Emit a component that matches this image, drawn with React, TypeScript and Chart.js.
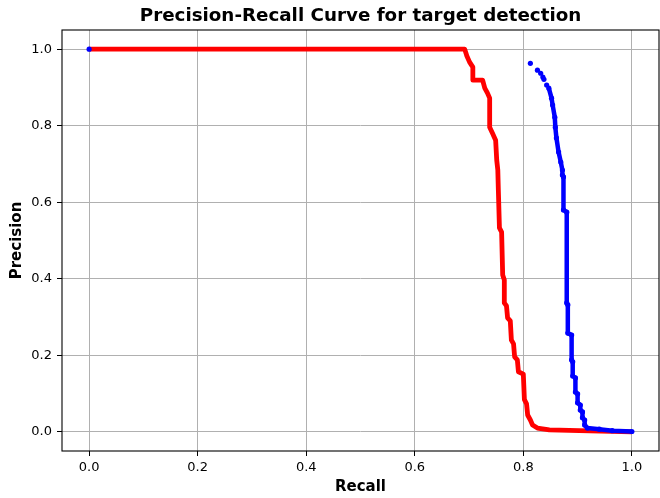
import React, { useEffect, useRef } from 'react';
import { Chart, registerables } from 'chart.js';

Chart.register(...registerables);

const chartTitle = 'Precision-Recall Curve for target detection';
const xLabel = 'Recall';
const yLabel = 'Precision';
const tickValues = [0, 0.2, 0.4, 0.6, 0.8, 1.0];

const redRecall = [
  0.0, 0.692, 0.696, 0.701, 0.707, 0.707, 0.725, 0.729, 0.734, 0.738, 0.738, 0.743, 0.749,
  0.751, 0.753, 0.754, 0.756, 0.760, 0.762, 0.765, 0.765, 0.769, 0.771, 0.776, 0.778, 0.782,
  0.784, 0.789, 0.791, 0.800, 0.802, 0.806, 0.808, 0.813, 0.817, 0.826, 0.848, 0.903, 1.0,
];
const redPrecision = [
  1.0, 1.0, 0.982, 0.966, 0.953, 0.919, 0.919, 0.898, 0.885, 0.872, 0.796, 0.781, 0.762,
  0.710, 0.684, 0.632, 0.533, 0.522, 0.410, 0.397, 0.337, 0.329, 0.298, 0.290, 0.240, 0.230,
  0.196, 0.188, 0.157, 0.151, 0.084, 0.073, 0.044, 0.031, 0.018, 0.010, 0.005, 0.003, 0.0,
];

const blueRecall = [
  0.0, 0.813, 0.826, 0.832, 0.836, 0.838, 0.843, 0.847, 0.852, 0.854, 0.858, 0.859, 0.861,
  0.865, 0.869, 0.872, 0.872, 0.874, 0.874, 0.880, 0.880, 0.882, 0.882, 0.889, 0.889, 0.891,
  0.891, 0.896, 0.896, 0.900, 0.900, 0.905, 0.905, 0.909, 0.909, 0.913, 0.913, 0.918, 0.940,
  0.964, 1.0,
];
const bluePrecision = [
  1.0, 0.963, 0.945, 0.937, 0.927, 0.921, 0.906, 0.898, 0.872, 0.854, 0.822, 0.796, 0.768,
  0.731, 0.705, 0.684, 0.671, 0.666, 0.580, 0.574, 0.337, 0.332, 0.258, 0.253, 0.188, 0.183,
  0.146, 0.141, 0.104, 0.099, 0.076, 0.070, 0.057, 0.052, 0.037, 0.031, 0.018, 0.010, 0.007,
  0.003, 0.001,
];

const FONT = '"DejaVu Sans", "Liberation Sans", sans-serif';

export default function App() {
  const ref = useRef<HTMLCanvasElement>(null);

  useEffect(() => {
    if (!ref.current) return;
    const decor = {
      id: 'decor',
      afterDraw(chart: any) {
        const { ctx, chartArea: a } = chart;
        ctx.save();
        ctx.strokeStyle = '#000';
        ctx.lineWidth = 1.1;
        ctx.strokeRect(a.left, a.top, a.right - a.left, a.bottom - a.top);
        ctx.fillStyle = '#000';
        ctx.textAlign = 'center';
        ctx.textBaseline = 'middle';
        const cx = (a.left + a.right) / 2;
        const cy = (a.top + a.bottom) / 2;
        ctx.font = `bold 18.3px ${FONT}`;
        ctx.fillText(chartTitle, cx, 16);
        ctx.font = `bold 15px ${FONT}`;
        ctx.fillText(xLabel, cx, 487);
        ctx.translate(17, cy);
        ctx.rotate(-Math.PI / 2);
        ctx.fillText(yLabel, 0, 0);
        ctx.restore();
      },
    };

    const tickFont = { family: FONT, size: 13 };
    const chart = new Chart(ref.current, {
      type: 'scatter',
      data: {
        datasets: [
          {
            label: 'red',
            data: redRecall.map((x, i) => ({ x, y: redPrecision[i] })),
            showLine: true,
            borderColor: '#ff0000',
            backgroundColor: '#ff0000',
            borderWidth: 4.8,
            pointRadius: 0,
            borderJoinStyle: 'round',
            borderCapStyle: 'butt',
            order: 2,
          },
          {
            label: 'blue',
            data: blueRecall.map((x, i) => ({ x, y: bluePrecision[i] })),
            showLine: true,
            borderColor: '#0000ff',
            backgroundColor: '#0000ff',
            pointBackgroundColor: '#0000ff',
            pointBorderWidth: 0,
            pointRadius: 2.6,
            borderWidth: 4.5,
            borderJoinStyle: 'round',
            segment: {
              borderColor: (c: any) => (c.p0.parsed.y > 0.9 ? 'rgba(0,0,0,0)' : '#0000ff'),
            },
            order: 1,
          },
        ] as any,
      },
      options: {
        responsive: false,
        animation: false,
        devicePixelRatio: 1,
        layout: { autoPadding: false, padding: { top: 30, right: 1, left: 0, bottom: 0 } },
        plugins: {
          legend: { display: false },
          tooltip: { enabled: false },
          title: { display: false },
        },
        scales: {
          x: {
            type: 'linear',
            min: -0.05,
            max: 1.05,
            afterBuildTicks: (s: any) => {
              s.ticks = tickValues.map((v) => ({ value: v }));
            },
            afterFit: (s: any) => {
              s.height = 47;
              s.paddingLeft = 0;
              s.paddingRight = 0;
            },
            ticks: {
              callback: (v: any) => Number(v).toFixed(1),
              font: tickFont,
              color: '#000',
              padding: 4,
              maxRotation: 0,
              autoSkip: false,
            },
            grid: { color: '#b0b0b0', lineWidth: 1, tickColor: '#000', tickLength: 5, tickWidth: 1 },
            border: { display: false },
          },
          y: {
            type: 'linear',
            min: -0.05,
            max: 1.05,
            afterBuildTicks: (s: any) => {
              s.ticks = tickValues.map((v) => ({ value: v }));
            },
            afterFit: (s: any) => {
              s.width = 62;
              s.paddingTop = 0;
              s.paddingBottom = 0;
            },
            ticks: {
              callback: (v: any) => Number(v).toFixed(1),
              font: tickFont,
              color: '#000',
              padding: 5,
              autoSkip: false,
            },
            grid: { color: '#b0b0b0', lineWidth: 1, tickColor: '#000', tickLength: 5, tickWidth: 1 },
            border: { display: false },
          },
        },
      } as any,
      plugins: [decor],
    });
    return () => chart.destroy();
  }, []);

  return (
    <div style={{ position: 'fixed', left: 0, top: 0, width: 660, height: 498, background: '#fff' }}>
      <canvas ref={ref} width={660} height={498} style={{ display: 'block', width: 660, height: 498 }} />
    </div>
  );
}
